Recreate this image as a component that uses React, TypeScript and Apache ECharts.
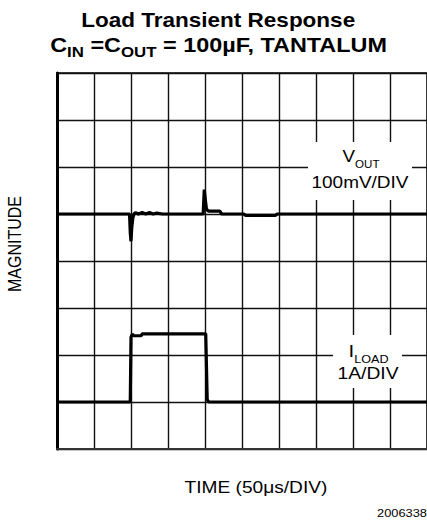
import React, { useEffect, useRef } from 'react';
import * as echarts from 'echarts';

// Oscilloscope traces, in grid divisions (x: 0..10 time divisions, y: 0..8 vertical divisions)
const vOutTime = [0, 1.96, 1.98, 2.0, 2.02, 2.05, 2.08, 2.12, 2.2, 2.3, 2.4, 2.5, 2.6, 2.7, 2.85, 3.95, 3.98, 4.01, 4.04, 4.1, 4.4, 4.45, 5.05, 5.1, 5.9, 5.95, 10];
const vOutLevel = [5, 5, 4.6, 4.42, 4.7, 4.92, 5.0, 5.03, 5.0, 5.03, 5.0, 5.03, 5.0, 5.02, 5.0, 5.0, 5.52, 5.3, 5.1, 5.06, 5.06, 5.0, 5.0, 4.97, 4.97, 5.0, 5];
const iLoadTime = [0, 1.98, 2.0, 2.04, 2.06, 2.28, 2.3, 4.02, 4.06, 4.1, 10];
const iLoadLevel = [1, 1, 2.38, 2.45, 2.41, 2.41, 2.45, 2.45, 1.05, 1, 1];

const xDivisions = [0, 10];
const yDivisions = [0, 8];

const titleLine1 = 'Load Transient Response';
const xAxisName = 'TIME (50\u03bcs/DIV)';
const yAxisName = 'MAGNITUDE';
const figureId = '2006338';

const FONT = '"Liberation Sans", Arial, Helvetica, sans-serif';

type Piece = { text: string; size: number; bold?: boolean; dy?: number };

function measure(text: string, size: number, bold?: boolean) {
  const c = document.createElement('canvas').getContext('2d')!;
  c.font = `${bold ? 'bold ' : ''}${size}px ${FONT}`;
  return c.measureText(text).width;
}

function run(
  pieces: Piece[],
  opts: { left?: number; right?: number; center?: number; width?: number; baseline: number; scale?: number }
) {
  const widths = pieces.map((p) => measure(p.text, p.size, p.bold));
  const natural = widths.reduce((a, b) => a + b, 0);
  const scale = opts.width ? opts.width / natural : opts.scale ?? 1;
  const total = natural * scale;
  let x0 =
    opts.center !== undefined
      ? opts.center - total / 2
      : opts.left !== undefined
      ? opts.left
      : (opts.right as number) - total;
  return pieces.map((p, i) => {
    const el = {
      type: 'text',
      x: x0,
      y: opts.baseline + (p.dy || 0) - 0.35 * p.size,
      scaleX: scale,
      z: 110,
      style: {
        text: p.text,
        fontSize: p.size,
        fontWeight: p.bold ? 'bold' : 'normal',
        fontFamily: FONT,
        fill: '#000',
        align: 'left',
        verticalAlign: 'middle',
        textAlign: 'left',
        textVerticalAlign: 'middle',
      },
    };
    x0 += widths[i] * scale;
    return el;
  });
}

export default function App() {
  const ref = useRef<HTMLDivElement>(null);
  useEffect(() => {
    if (!ref.current) return;
    const chart = echarts.init(ref.current, undefined, { renderer: 'svg' });

    const elements: any[] = [
      { type: 'rect', z: 100, shape: { x: 308, y: 142, width: 104, height: 58 }, style: { fill: '#fff' } },
      { type: 'rect', z: 100, shape: { x: 333, y: 335, width: 69, height: 53 }, style: { fill: '#fff' } },
      ...run([{ text: titleLine1, size: 19.5, bold: true }], { center: 218.3, width: 274, baseline: 27 }),
      ...run(
        [
          { text: 'C', size: 19.5, bold: true },
          { text: 'IN', size: 14, bold: true, dy: 3.8 },
          { text: ' =C', size: 19.5, bold: true },
          { text: 'OUT', size: 14, bold: true, dy: 3.8 },
          { text: ' = 100\u00b5F, TANTALUM', size: 19.5, bold: true },
        ],
        { center: 218.7, width: 337, baseline: 52.8 }
      ),
      ...run(
        [
          { text: 'V', size: 17 },
          { text: 'OUT', size: 10.5, dy: 5.6 },
        ],
        { center: 361, width: 37, baseline: 162 }
      ),
      ...run([{ text: '100mV/DIV', size: 16.5 }], { center: 360, width: 97, baseline: 187.8 }),
      ...run(
        [
          { text: 'I', size: 17 },
          { text: 'LOAD', size: 10.5, dy: 5.7 },
        ],
        { center: 368.5, width: 40, baseline: 357.3 }
      ),
      ...run([{ text: '1A/DIV', size: 16.5 }], { center: 368, width: 61, baseline: 379.5 }),
      ...run([{ text: xAxisName, size: 16.5 }], { center: 256, width: 143, baseline: 493.5 }),
      ...run([{ text: figureId, size: 10 }], { right: 427, width: 50, baseline: 517.5 }),
      {
        type: 'text',
        x: 15,
        y: 244,
        rotation: Math.PI / 2,
        scaleY: 1.15,
        z: 110,
        style: {
          text: yAxisName,
          fontSize: 16,
          fontFamily: FONT,
          fill: '#000',
          align: 'center',
          verticalAlign: 'middle',
          textAlign: 'center',
          textVerticalAlign: 'middle',
        },
      },
    ];

    chart.setOption({
      animation: false,
      backgroundColor: '#fff',
      grid: {
        left: 57,
        top: 73,
        width: 377,
        height: 376,
        show: true,
        borderColor: '#000',
        borderWidth: 1.5,
      },
      xAxis: {
        type: 'value',
        min: xDivisions[0],
        max: xDivisions[1],
        interval: 1,
        axisLabel: { show: false },
        axisTick: { show: false },
        axisLine: { show: true, lineStyle: { color: '#333', width: 2 } },
        splitLine: { show: true, lineStyle: { color: '#111', width: 1.4 } },
      },
      yAxis: {
        type: 'value',
        min: yDivisions[0],
        max: yDivisions[1],
        interval: 1,
        axisLabel: { show: false },
        axisTick: { show: false },
        axisLine: { show: true, lineStyle: { color: '#000', width: 3 } },
        splitLine: { show: true, lineStyle: { color: '#111', width: 1.4 } },
      },
      series: [
        {
          name: 'VOUT',
          type: 'line',
          showSymbol: false,
          z: 5,
          lineStyle: { color: '#000', width: 3.2 },
          data: vOutTime.map((t, i) => [t, vOutLevel[i]]),
        },
        {
          name: 'ILOAD',
          type: 'line',
          showSymbol: false,
          z: 5,
          lineStyle: { color: '#000', width: 3.2 },
          data: iLoadTime.map((t, i) => [t, iLoadLevel[i]]),
        },
      ],
      graphic: { elements },
    });
    return () => chart.dispose();
  }, []);
  return (
    <div
      ref={ref}
      style={{ position: 'absolute', left: 0, top: 0, width: 427, height: 520 }}
    />
  );
}
